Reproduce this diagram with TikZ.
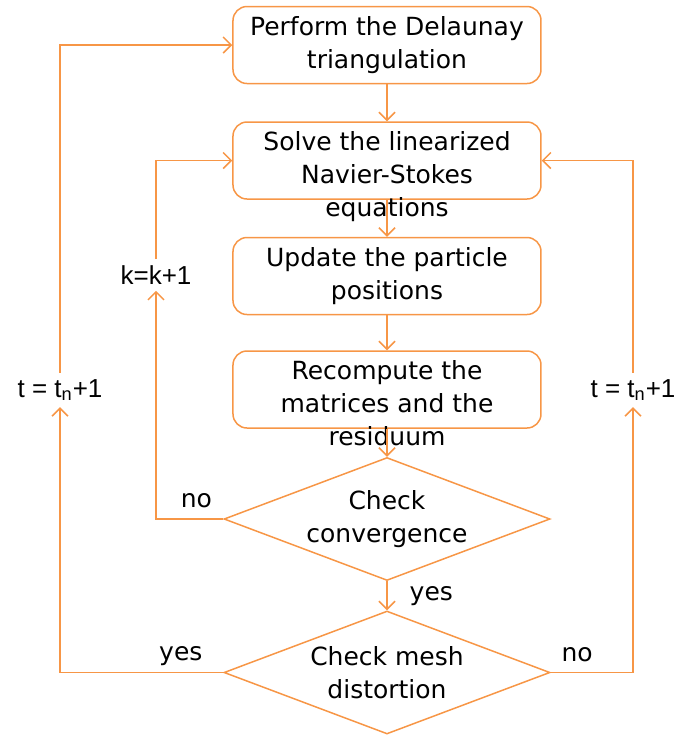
\documentclass[tikz,border=0pt]{standalone}
\usepackage{fontspec}
\setmainfont{DejaVu Sans}
\newfontfamily\labelfont{Liberation Sans}
\usetikzlibrary{shapes.geometric, arrows.meta, positioning}
\definecolor{flow}{RGB}{247,150,70}

\begin{document}
\begin{tikzpicture}[
    x=0.5pt, y=-0.5pt,
    node distance=18.5pt,
    >={Straight Barb[length=4pt,width=8pt]},
    % Styles
    stepbox/.style={rounded corners=7pt, draw=flow, line width=0.75pt, minimum width=154pt, minimum height=38.5pt, inner sep=0pt},
    boxtext/.style={anchor=north, font=\fontsize{12.5}{16.5}\selectfont, align=center, inner sep=0pt},
    decision/.style={diamond, aspect=2.67, draw=flow, line width=0.75pt, minimum width=163pt, minimum height=61.5pt, inner sep=0pt, font=\fontsize{12.5}{16.5}\selectfont, align=center},
    flowline/.style={->, draw=flow, line width=0.75pt},
    looplabel/.style={font=\labelfont\fontsize{13}{15}\selectfont, inner sep=3pt},
    answer/.style={font=\fontsize{12.5}{15}\selectfont, inner sep=0pt},
]
\useasboundingbox (0,0) rectangle (679,736);

% ── Main column ──
\node[stepbox] (delaunay) at (387,45) {};
\node[stepbox, below=of delaunay] (solve) {};
\node[stepbox, below=of solve] (update) {};
\node[stepbox, below=17.5pt of update] (recompute) {};
\node[decision, below=14pt of recompute] (conv) {Check\\convergence};
\node[decision, below=14.5pt of conv] (mesh) {Check mesh\\distortion};

\node[boxtext] at ([yshift=-5pt]delaunay.north) {Perform the Delaunay\\triangulation};
\node[boxtext] at ([yshift=-5pt]solve.north) {Solve the linearized\\Navier-Stokes\\equations};
\node[boxtext] at ([yshift=-5pt]update.north) {Update the particle\\positions};
\node[boxtext] at ([yshift=-5pt]recompute.north) {Recompute the\\matrices and the\\residuum};

\draw[flowline] (delaunay) -- (solve);
\draw[flowline] (solve) -- (update);
\draw[flowline] (update) -- (recompute);
\draw[flowline] (recompute) -- (conv);
\draw[flowline] (conv) -- node[answer, anchor=west, xshift=11pt] {yes} (mesh);

% ── Loop labels ──
\node[looplabel] (kinc) at (156,275) {k=k+1};
\node[looplabel] (tback) at (60,390) {t = t\textsubscript{n}+1};
\node[looplabel] (tfwd) at (633,390) {t = t\textsubscript{n}+1};

% ── Inner iteration ──
\draw[flowline] (conv.west) -| node[answer, pos=0.2, above=5pt] {no} (kinc.south);
\draw[flowline] (kinc.north) |- (solve.west);

% ── Time steps ──
\draw[flowline] (mesh.west) -| node[answer, pos=0.13, above=3pt] {yes} (tback.south);
\draw[flowline] (tback.north) |- (delaunay.west);
\draw[flowline] (mesh.east) -| node[answer, pos=0.16, above=5pt] {no} (tfwd.south);
\draw[flowline] (tfwd.north) |- (solve.east);

\end{tikzpicture}
\end{document}
